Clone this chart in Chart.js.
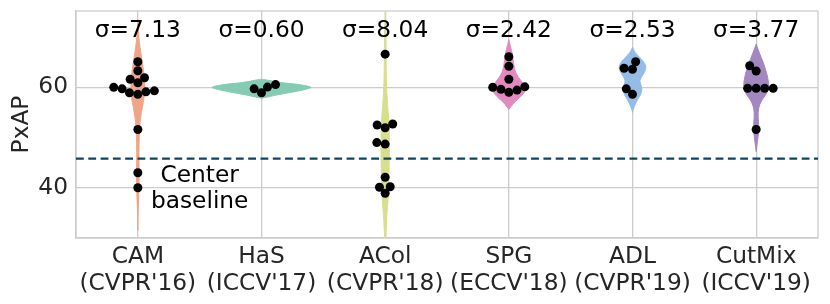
<!DOCTYPE html>
<html>
<head>
<meta charset="utf-8">
<script src="https://cdn.jsdelivr.net/npm/chart.js@4"></script>
<style>
  html, body { margin: 0; padding: 0; background: #fff; }
  #wrap { width: 830px; height: 304px; }
</style>
</head>
<body>
<div id="wrap"><canvas id="chart" width="830" height="304"></canvas></div>
<script>
const categories = [
    ['CAM', "(CVPR'16)"],
    ['HaS', "(ICCV'17)"],
    ['ACol', "(CVPR'18)"],
    ['SPG', "(ECCV'18)"],
    ['ADL', "(CVPR'19)"],
    ['CutMix', "(ICCV'19)"]
];
const sigmaLabels = ['σ=7.13', 'σ=0.60', 'σ=8.04', 'σ=2.42', 'σ=2.53', 'σ=3.77'];
const yTicks = [40, 60];
const baselineValue = 45.8;

// PxAP of each run, per method
const camScores = [65.1, 63.3, 61.9, 61.6, 60.9, 60.0, 59.7, 59.3, 59.1, 58.9, 58.6, 51.6, 43.0, 40.0];
const hasScores = [60.55, 60.05, 59.7, 58.9];
const acolScores = [66.6, 52.7, 52.5, 51.95, 49.0, 48.7, 42.1, 40.2, 40.1, 38.9];
const spgScores = [66.1, 64.2, 61.6, 60.1, 60.0, 59.6, 59.45, 59.0];
const adlScores = [65.1, 63.8, 63.6, 59.7, 58.6];
const cutmixScores = [64.3, 63.25, 59.8, 59.8, 59.8, 59.8, 51.6];

// violin outlines: PxAP levels and relative half widths (1 = widest violin)
const camLevels = [31.5, 32, 34, 36, 38, 40, 42, 44, 46, 48, 50, 52, 54, 56, 58, 60, 62, 64, 66, 68, 70, 72, 73.5];
const camWidths = [0, .001, .004, .009, .017, .024, .027, .026, .023, .024, .028, .036, .057, .091, .127, .141, .129, .105, .075, .044, .020, .008, 0];
const hasLevels = [57.85, 58, 58.5, 59, 59.5, 60, 60.5, 61, 61.5, 61.6];
const hasWidths = [0, .085, .32, .60, .85, 1, .79, .36, .08, 0];
const acolLevels = [28.2, 30, 32, 34, 36, 38, 40, 42, 44, 46, 48, 50, 52, 54, 56, 58, 60, 62, 64, 66, 68, 70, 72, 74, 77];
const acolWidths = [0, .01, .02, .031, .046, .061, .071, .075, .079, .083, .083, .083, .079, .069, .053, .04, .028, .022, .019, .017, .016, .013, .009, .004, 0];
const spgLevels = [55.6, 56, 57, 58, 59, 59.7, 60.5, 61.5, 62.5, 63.5, 64.5, 65.5, 66.5, 67.5, 68.5, 69.5];
const spgWidths = [0, .03, .111, .222, .313, .333, .303, .232, .162, .121, .101, .085, .073, .051, .024, 0];
const adlLevels = [55, 55.5, 56.5, 57.5, 58.5, 59.5, 60.5, 61.3, 62, 63, 64, 65, 66, 67, 68];
const adlWidths = [0, .01, .05, .10, .16, .19, .17, .15, .18, .24, .27, .23, .14, .05, 0];
const cutmixLevels = [47.2, 47.5, 48.5, 49.5, 50.5, 51.5, 52.5, 53.5, 54.5, 55.5, 56.5, 57.5, 58.5, 59.5, 60.5, 61.5, 62.5, 63.5, 64.5, 65.5, 66.5, 67.5, 68.6];
const cutmixWidths = [0, .004, .016, .03, .042, .05, .05, .044, .04, .046, .07, .12, .19, .24, .25, .24, .22, .19, .16, .12, .08, .04, 0];

const scores = [camScores, hasScores, acolScores, spgScores, adlScores, cutmixScores];
const levels = [camLevels, hasLevels, acolLevels, spgLevels, adlLevels, cutmixLevels];
const widths = [camWidths, hasWidths, acolWidths, spgWidths, adlWidths, cutmixWidths];
const colors = ['#efa587', '#85cbb4', '#d8df8c', '#e38ac1', '#94bce6', '#a387c0'];

const FONT = { family: 'DejaVu Sans', size: 23.3 };
const GRID = '#cccccc';
const HALF = 0.4;   // half of the violin width, in category units

function violinOutline(i, lv, w) {
    const right = lv.map((y, k) => ({ x: i + HALF * w[k], y }));
    const left = lv.map((y, k) => ({ x: i - HALF * w[k], y })).reverse();
    return right.concat(left);
}

// beeswarm placement done in pixel space, like seaborn's swarmplot
function swarm(values, i, xs, ys, d) {
    const mid = xs.getPixelForValue(i);
    const pts = values.map(v => ({ v, py: ys.getPixelForValue(v) })).sort((a, b) => a.v - b.v);
    const placed = [];
    for (const p of pts) {
        const neighbors = placed.filter(q => Math.abs(q.py - p.py) < d).reverse();
        const cands = [mid];
        let leftFirst = true;
        for (const q of neighbors) {
            const dy = p.py - q.py;
            const dx = Math.sqrt(Math.max(d * d - dy * dy, 0)) * 1.05;
            if (leftFirst) cands.push(q.px - dx, q.px + dx);
            else cands.push(q.px + dx, q.px - dx);
            leftFirst = !leftFirst;
        }
        const order = cands.map((x, k) => ({ x, k }))
            .sort((a, b) => (Math.abs(a.x - mid) - Math.abs(b.x - mid)) || (a.k - b.k));
        p.px = mid;
        for (const c of order) {
            if (neighbors.every(q => Math.hypot(c.x - q.px, p.py - q.py) >= d - 1e-6)) {
                p.px = c.x;
                break;
            }
        }
        placed.push(p);
    }
    return placed.map(p => ({ x: xs.getValueForPixel(p.px), y: p.v }));
}

const violinSets = levels.map((lv, i) => ({
    type: 'line',
    data: violinOutline(i, lv, widths[i]),
    borderColor: colors[i],
    backgroundColor: colors[i],
    borderWidth: 1,
    fill: 'shape',
    tension: 0.3,
    pointRadius: 0,
    order: 3
}));

const baselineSet = {
    type: 'line',
    data: [{ x: -0.5, y: baselineValue }, { x: 5.5, y: baselineValue }],
    borderColor: '#0f4466',
    borderWidth: 2.4,
    borderDash: [7.8, 4.5],
    pointRadius: 0,
    fill: false,
    order: 2
};

const pointSets = scores.map((vals, i) => ({
    type: 'scatter',
    data: vals.map(v => ({ x: i, y: v })),
    backgroundColor: '#000',
    borderWidth: 0,
    pointRadius: 4.5,
    order: 1
}));

const annotations = {
    id: 'annotations',
    beforeDatasetsDraw(chart) {
        const { ctx, chartArea: a } = chart;
        ctx.save();
        ctx.strokeStyle = GRID;
        ctx.lineWidth = 1.3;
        ctx.strokeRect(a.left, a.top, a.right - a.left, a.bottom - a.top);
        ctx.restore();
    },
    afterDatasetsDraw(chart) {
        const { ctx, scales: { x, y } } = chart;
        ctx.save();
        ctx.font = `${FONT.size}px "${FONT.family}"`;
        ctx.fillStyle = '#000';
        ctx.textAlign = 'center';
        ctx.textBaseline = 'alphabetic';
        sigmaLabels.forEach((s, i) => ctx.fillText(s, x.getPixelForValue(i), y.getPixelForValue(70.1)));
        ctx.fillText('Center', x.getPixelForValue(0.5), y.getPixelForValue(41.2));
        ctx.fillText('baseline', x.getPixelForValue(0.5), y.getPixelForValue(35.9));
        ctx.restore();
    }
};

const chart = new Chart(document.getElementById('chart'), {
    type: 'line',
    data: { datasets: [...pointSets, baselineSet, ...violinSets] },
    options: {
        responsive: false,
        animation: false,
        devicePixelRatio: 1,
        layout: { padding: { top: 11, right: 12, bottom: 0, left: 0 } },
        plugins: { legend: { display: false }, tooltip: { enabled: false } },
        scales: {
            x: {
                type: 'linear',
                min: -0.5,
                max: 5.5,
                afterBuildTicks: s => { s.ticks = categories.map((c, i) => ({ value: i })); },
                afterFit: s => { s.height = 66; s.paddingLeft = 0; s.paddingRight = 0; },
                grid: { color: GRID, lineWidth: 1.3, drawTicks: false },
                border: { color: GRID, width: 1.3 },
                ticks: {
                    padding: 5,
                    color: '#262626',
                    font: { ...FONT, lineHeight: 1.16 },
                    maxRotation: 0,
                    autoSkip: false,
                    callback: v => categories[v]
                }
            },
            y: {
                min: 30,
                max: 75.2,
                afterBuildTicks: s => { s.ticks = yTicks.map(v => ({ value: v })); },
                afterFit: s => { s.width = 76; s.paddingTop = 0; s.paddingBottom = 0; },
                grid: { color: GRID, lineWidth: 1.3, drawTicks: false },
                border: { color: GRID, width: 1.3 },
                ticks: { padding: 8, color: '#262626', font: FONT },
                title: {
                    display: true,
                    text: 'PxAP',
                    color: '#262626',
                    font: FONT,
                    padding: { top: 8, bottom: 0 }
                }
            }
        }
    },
    plugins: [annotations]
});

// place the swarm points now that the scales exist
const xs = chart.scales.x, ys = chart.scales.y;
scores.forEach((vals, i) => { chart.data.datasets[i].data = swarm(vals, i, xs, ys, 8.1); });
chart.update('none');
</script>
</body>
</html>
